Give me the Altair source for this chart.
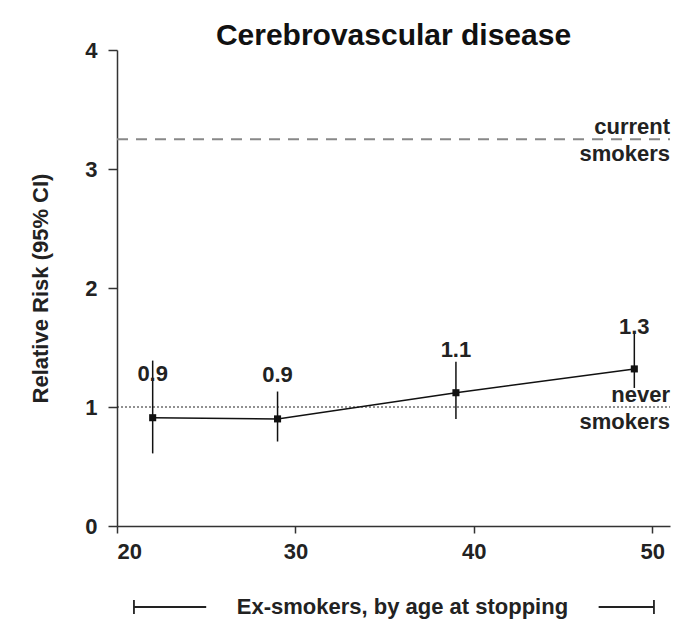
import altair as alt
import pandas as pd

# ---- data ----
ages = [22, 29, 39, 49]
rr = [0.91, 0.90, 1.12, 1.32]
ci_low = [0.61, 0.71, 0.90, 1.16]
ci_high = [1.39, 1.13, 1.38, 1.63]
rr_labels = ["0.9", "0.9", "1.1", "1.3"]
rr_label_y = [1.28, 1.27, 1.48, 1.67]

current_smokers_rr = 3.25
never_smokers_rr = 1.0

x_ticks = [20, 30, 40, 50]
y_ticks = [0, 1, 2, 3, 4]

bracket_left = [20.95, 25.0]
bracket_right = [47.0, 50.1]
bracket_text_x = 36.0
bracket_text = "Ex-smokers, by age at stopping"

FONT = "Liberation Sans"
FS = 22
W, H = 553, 476

df = pd.DataFrame({"age": ages, "rr": rr, "lo": ci_low, "hi": ci_high,
                   "lab": rr_labels, "laby": rr_label_y})

xs = alt.Scale(domain=[20, 51], nice=False, zero=False)
ys = alt.Scale(domain=[0, 4], nice=False)

x_axis = alt.Axis(values=x_ticks, title=None, format="d")
y_axis = alt.Axis(values=y_ticks, title="Relative Risk (95% CI)", format="d")

base = alt.Chart(df)

line = base.mark_line(color="#111", strokeWidth=1.5).encode(
    x=alt.X("age:Q", scale=xs, axis=x_axis),
    y=alt.Y("rr:Q", scale=ys, axis=y_axis),
)
err = base.mark_rule(color="#111", strokeWidth=1.5).encode(
    x="age:Q", y="lo:Q", y2="hi:Q")
pts = base.mark_square(color="#111", size=50, opacity=1).encode(
    x="age:Q", y="rr:Q")
labs = base.mark_text(font=FONT, fontSize=FS, fontWeight="bold", color="#222").encode(
    x="age:Q", y="laby:Q", text="lab:N")

ref_df = pd.DataFrame({"y": [current_smokers_rr], "x1": [20], "x2": [51]})
cur_line = alt.Chart(ref_df).mark_rule(color="#888", strokeWidth=2, strokeDash=[11, 8]).encode(
    x="x1:Q", x2="x2:Q", y="y:Q")
never_df = pd.DataFrame({"y": [never_smokers_rr], "x1": [20], "x2": [51]})
nev_line = alt.Chart(never_df).mark_rule(color="#222", strokeWidth=1, strokeDash=[2, 2]).encode(
    x="x1:Q", x2="x2:Q", y="y:Q")

txt_df = pd.DataFrame({
    "x": [51, 51, 51, 51],
    "y": [current_smokers_rr, current_smokers_rr, never_smokers_rr, never_smokers_rr],
    "t": ["current", "smokers", "never", "smokers"],
    "pos": ["top", "bottom", "top", "bottom"],
})
ref_txt_top = alt.Chart(txt_df[txt_df.pos == "top"]).mark_text(
    font=FONT, fontSize=FS, fontWeight="bold", color="#222", align="right", dy=-12
).encode(x="x:Q", y="y:Q", text="t:N")
ref_txt_bot = alt.Chart(txt_df[txt_df.pos == "bottom"]).mark_text(
    font=FONT, fontSize=FS, fontWeight="bold", color="#222", align="right", dy=15
).encode(x="x:Q", y="y:Q", text="t:N")

seg_df = pd.DataFrame({"x1": [bracket_left[0], bracket_right[0]],
                       "x2": [bracket_left[1], bracket_right[1]]})
segs = alt.Chart(seg_df).mark_rule(color="#222", strokeWidth=1.8).encode(
    x="x1:Q", x2="x2:Q", y=alt.value(H + 81))
cap_df = pd.DataFrame({"x": [bracket_left[0], bracket_right[1]]})
caps = alt.Chart(cap_df).mark_rule(color="#222", strokeWidth=1.8).encode(
    x="x:Q", y=alt.value(H + 74), y2=alt.value(H + 88))
bt_df = pd.DataFrame({"x": [bracket_text_x], "t": [bracket_text]})
btext = alt.Chart(bt_df).mark_text(
    font=FONT, fontSize=22, fontWeight="bold", color="#222"
).encode(x="x:Q", y=alt.value(H + 81), text="t:N")

chart = alt.layer(
    cur_line, nev_line, line, err, pts, labs, ref_txt_top, ref_txt_bot, segs, caps, btext
).properties(
    width=W, height=H,
    title=alt.TitleParams("Cerebrovascular disease", font=FONT, fontSize=30,
                          fontWeight="bold", color="#111", anchor="middle", offset=-12),
    autosize=alt.AutoSizeParams(type="none"),
    padding={"left": 109, "top": 42, "right": 22, "bottom": 97},
).configure_view(stroke=None).configure_axis(
    grid=False, domainColor="#333", domainWidth=1.5, tickColor="#333", tickWidth=1.5,
    labelFont=FONT, labelFontSize=FS, labelFontWeight="bold",
    labelColor="#222", titleFont=FONT, titleFontSize=FS, titleFontWeight="bold",
    titleColor="#222",
).configure_axisY(tickSize=9, titlePadding=32, labelPadding=11).configure_axisX(
    tickSize=7, labelPadding=8)

chart.save("out.html", embed_options={"renderer": "svg", "actions": False})
